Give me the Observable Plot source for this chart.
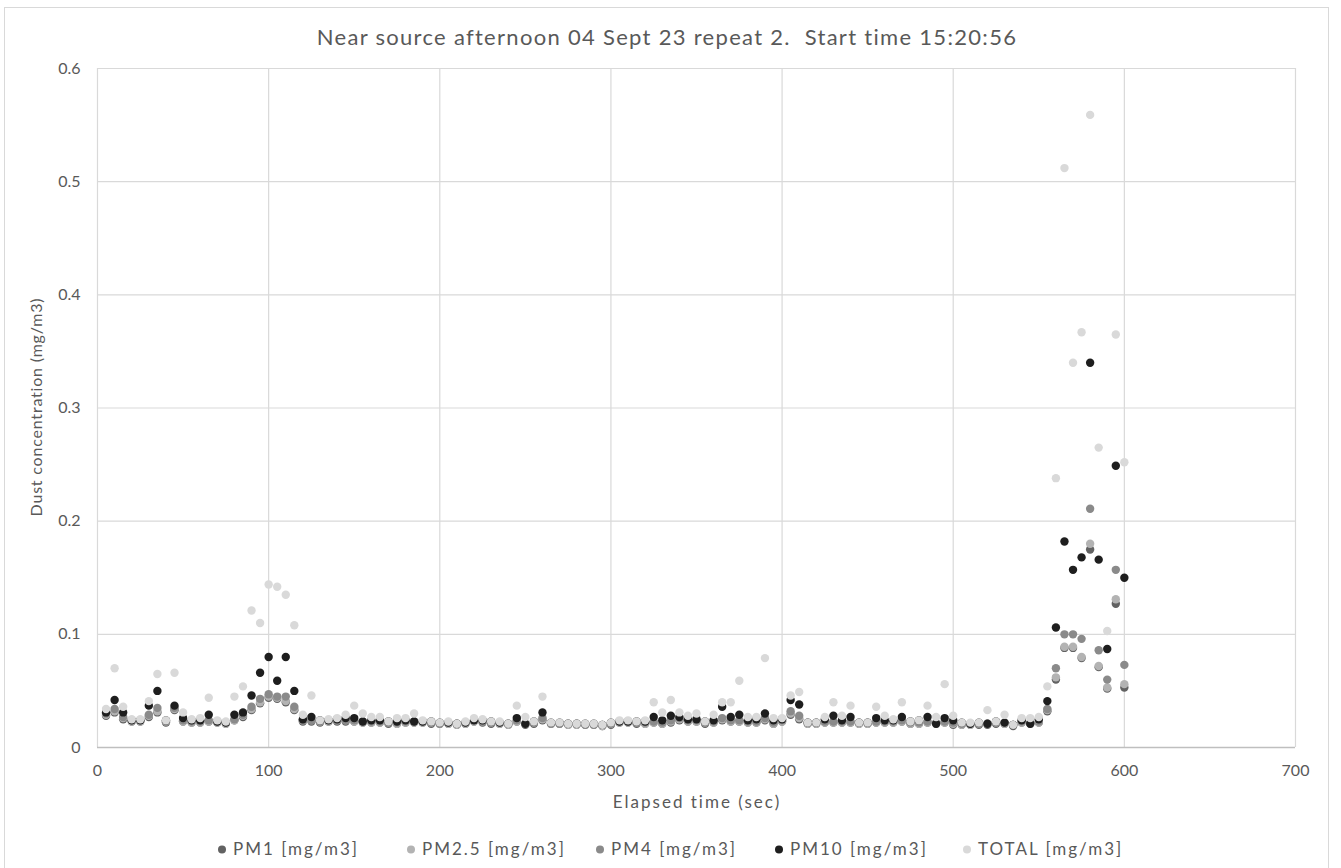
<!DOCTYPE html>
<html><head><meta charset="utf-8">
<script src="https://cdn.jsdelivr.net/npm/d3@7"></script>
<script src="https://cdn.jsdelivr.net/npm/@observablehq/plot@0.6"></script>
<style>
body{margin:0;background:#fff;font-family:Lato,"Open Sans",sans-serif;color:#595959}
#wrap{position:relative;width:1341px;height:868px;overflow:hidden;background:#fff}
#frame{position:absolute;left:4px;top:7px;width:1325px;height:880px;border:1px solid #d9d9d9;box-sizing:border-box}
#title{position:absolute;top:36px;left:667px;transform:translate(-50%,-50%);font-size:22px;letter-spacing:1.3px;white-space:pre;color:#595959}
#chart{position:absolute;left:0;top:0}
#ylabel{position:absolute;left:35px;top:407px;transform:translate(-50%,-50%) rotate(-90deg);font-size:16px;letter-spacing:0.8px;white-space:nowrap}
#xlabel{position:absolute;left:697px;top:801px;transform:translate(-50%,-50%);font-size:17px;letter-spacing:2px;white-space:nowrap}
#legend{position:absolute;top:848px;left:0;width:1341px;height:20px}
#legend .item{position:absolute;top:0;transform:translateY(-50%);font-size:17px;letter-spacing:2px;white-space:nowrap}
#legend span.sw{display:inline-block;width:8px;height:8px;border-radius:50%;margin-right:7px;vertical-align:middle;position:relative;top:-1px}
</style>
</head><body>
<div id="wrap">
<div id="frame"></div>
<div id="chart"></div>
<div id="title">Near source afternoon 04 Sept 23 repeat 2.  Start time 15:20:56</div>
<div id="ylabel">Dust concentration (mg/m3)</div>
<div id="xlabel">Elapsed time (sec)</div>
<div id="legend"></div>
</div>
<script>
const seriesNames = ["PM1 [mg/m3]","PM2.5 [mg/m3]","PM4 [mg/m3]","PM10 [mg/m3]","TOTAL [mg/m3]"];
const seriesColors = ["#626262","#b3b3b3","#8a8a8a","#1e1e1e","#d9d9d9"];
const xTicks = [0,100,200,300,400,500,600,700];
const yTicks = [0,0.1,0.2,0.3,0.4,0.5,0.6];

const times = [5,10,15,20,25,30,35,40,45,50,55,60,65,70,75,80,85,90,95,100,
105,110,115,120,125,130,135,140,145,150,155,160,165,170,175,180,185,190,195,200,
205,210,215,220,225,230,235,240,245,250,255,260,265,270,275,280,285,290,295,300,
305,310,315,320,325,330,335,340,345,350,355,360,365,370,375,380,385,390,395,400,
405,410,415,420,425,430,435,440,445,450,455,460,465,470,475,480,485,490,495,500,
505,510,515,520,525,530,535,540,545,550,555,560,565,570,575,580,585,590,595,600];

const total = [0.034,0.070,0.036,0.025,0.025,0.041,0.065,0.024,0.066,0.031,0.025,0.026,0.044,0.024,0.023,0.045,0.054,0.121,0.110,0.144,
0.142,0.135,0.108,0.029,0.046,0.024,0.025,0.026,0.029,0.037,0.030,0.027,0.027,0.023,0.026,0.026,0.030,0.024,0.023,0.022,
0.023,0.021,0.023,0.026,0.025,0.023,0.023,0.021,0.037,0.027,0.023,0.045,0.022,0.022,0.021,0.021,0.021,0.021,0.020,0.022,
0.024,0.024,0.023,0.024,0.040,0.031,0.042,0.031,0.028,0.030,0.023,0.029,0.040,0.040,0.059,0.027,0.027,0.079,0.026,0.026,
0.046,0.049,0.022,0.022,0.027,0.040,0.028,0.037,0.022,0.022,0.036,0.028,0.025,0.040,0.023,0.024,0.037,0.027,0.056,0.028,
0.022,0.022,0.022,0.033,0.023,0.029,0.020,0.026,0.026,0.027,0.054,0.238,0.512,0.340,0.367,0.559,0.265,0.103,0.365,0.252];

const pm10 = [0.031,0.042,0.031,0.024,0.024,0.037,0.050,0.024,0.037,0.026,0.024,0.024,0.029,0.023,0.022,0.029,0.031,0.046,0.066,0.080,
0.059,0.080,0.050,0.025,0.027,0.024,0.024,0.025,0.026,0.026,0.023,0.024,0.024,0.023,0.023,0.024,0.023,0.023,0.023,0.022,
0.022,0.021,0.022,0.024,0.024,0.023,0.022,0.021,0.026,0.021,0.023,0.031,0.022,0.022,0.021,0.021,0.021,0.021,0.020,0.022,
0.023,0.023,0.023,0.023,0.027,0.024,0.028,0.027,0.025,0.025,0.023,0.024,0.036,0.027,0.029,0.024,0.025,0.030,0.024,0.025,
0.042,0.038,0.022,0.022,0.025,0.028,0.024,0.027,0.022,0.022,0.026,0.024,0.024,0.027,0.023,0.024,0.027,0.021,0.026,0.024,
0.022,0.021,0.022,0.021,0.023,0.022,0.020,0.024,0.021,0.025,0.041,0.106,0.182,0.157,0.168,0.340,0.166,0.087,0.249,0.150];

const pm4 = [0.030,0.034,0.027,0.024,0.024,0.029,0.035,0.023,0.035,0.024,0.023,0.023,0.024,0.023,0.022,0.025,0.029,0.036,0.043,0.047,
0.045,0.045,0.036,0.024,0.024,0.023,0.024,0.024,0.024,0.024,0.023,0.023,0.023,0.022,0.022,0.023,0.023,0.023,0.022,0.021,
0.022,0.021,0.022,0.024,0.023,0.022,0.022,0.021,0.024,0.021,0.022,0.026,0.021,0.021,0.021,0.021,0.020,0.020,0.020,0.021,
0.023,0.023,0.022,0.022,0.023,0.022,0.024,0.026,0.024,0.024,0.022,0.023,0.026,0.024,0.024,0.023,0.023,0.026,0.022,0.024,
0.032,0.028,0.022,0.022,0.023,0.023,0.023,0.023,0.022,0.022,0.023,0.023,0.023,0.024,0.022,0.022,0.023,0.022,0.023,0.022,
0.021,0.021,0.021,0.021,0.022,0.022,0.020,0.023,0.022,0.023,0.034,0.070,0.100,0.100,0.096,0.211,0.086,0.060,0.157,0.073];

const pm25 = [0.029,0.032,0.026,0.023,0.023,0.028,0.032,0.023,0.034,0.023,0.022,0.022,0.023,0.022,0.021,0.024,0.028,0.034,0.040,0.045,
0.044,0.041,0.034,0.024,0.024,0.023,0.023,0.024,0.024,0.023,0.022,0.022,0.022,0.022,0.021,0.022,0.022,0.022,0.022,0.021,
0.021,0.020,0.021,0.023,0.023,0.022,0.021,0.020,0.023,0.021,0.022,0.025,0.021,0.021,0.020,0.020,0.020,0.020,0.019,0.021,
0.022,0.022,0.022,0.021,0.022,0.021,0.023,0.025,0.023,0.023,0.022,0.022,0.025,0.023,0.023,0.022,0.022,0.025,0.021,0.023,
0.030,0.026,0.021,0.021,0.022,0.022,0.022,0.022,0.021,0.021,0.022,0.022,0.022,0.023,0.021,0.021,0.022,0.021,0.022,0.021,
0.020,0.020,0.021,0.021,0.022,0.021,0.020,0.022,0.021,0.022,0.033,0.062,0.089,0.089,0.080,0.180,0.072,0.053,0.131,0.056];

const pm1 = [0.028,0.031,0.025,0.023,0.023,0.027,0.031,0.022,0.033,0.023,0.022,0.022,0.023,0.022,0.021,0.024,0.027,0.033,0.039,0.044,
0.043,0.040,0.033,0.023,0.023,0.022,0.023,0.023,0.023,0.023,0.022,0.022,0.022,0.021,0.021,0.022,0.022,0.022,0.021,0.021,
0.021,0.020,0.021,0.023,0.022,0.021,0.021,0.020,0.023,0.020,0.021,0.024,0.021,0.021,0.020,0.020,0.020,0.020,0.019,0.020,
0.022,0.022,0.021,0.021,0.022,0.021,0.022,0.024,0.023,0.023,0.021,0.022,0.024,0.023,0.023,0.022,0.022,0.024,0.021,0.023,
0.029,0.025,0.021,0.021,0.022,0.022,0.022,0.022,0.021,0.021,0.022,0.022,0.022,0.023,0.021,0.021,0.022,0.021,0.022,0.020,
0.020,0.020,0.020,0.020,0.021,0.021,0.019,0.022,0.021,0.022,0.032,0.060,0.088,0.088,0.079,0.175,0.071,0.052,0.127,0.053];

const seriesValues = [pm1, pm25, pm4, pm10, total];
const rows = [];
seriesValues.forEach((vals, si) => {
  vals.forEach((v, i) => rows.push({t: times[i], v, s: seriesNames[si]}));
});

const chart = Plot.plot({
  width: 1341, height: 868,
  marginTop: 68, marginBottom: 121, marginLeft: 97, marginRight: 46,
  style: {fontFamily: "Lato, 'Open Sans', sans-serif", fontSize: "16px", color: "#595959", background: "transparent"},
  x: {domain: [0, 700], ticks: xTicks, tickFormat: d => String(d), tickSize: 0, tickPadding: 17, label: null},
  y: {domain: [0, 0.6], ticks: yTicks, tickFormat: d => d === 0 ? "0" : d.toFixed(1), tickSize: 0, tickPadding: 17, label: null},
  color: {domain: seriesNames, range: seriesColors},
  marks: [
    Plot.gridX(xTicks, {stroke: "#d9d9d9", strokeOpacity: 1, strokeWidth: 1.2}),
    Plot.gridY(yTicks.filter(d => d > 0), {stroke: "#d9d9d9", strokeOpacity: 1, strokeWidth: 1.2}),
    Plot.ruleY([0], {stroke: "#bfbfbf", strokeWidth: 1.5}),
    Plot.dot(rows, {x: "t", y: "v", fill: "s", r: 4.2})
  ]
});
document.getElementById("chart").appendChild(chart);

const legendX = [218, 407, 596, 775, 963];
const legend = document.getElementById("legend");
seriesNames.forEach((name, i) => {
  const item = document.createElement("div");
  item.className = "item";
  item.style.left = legendX[i] + "px";
  const sw = document.createElement("span");
  sw.className = "sw";
  sw.style.background = seriesColors[i];
  item.appendChild(sw);
  item.appendChild(document.createTextNode(name));
  legend.appendChild(item);
});
</script>
</body></html>
